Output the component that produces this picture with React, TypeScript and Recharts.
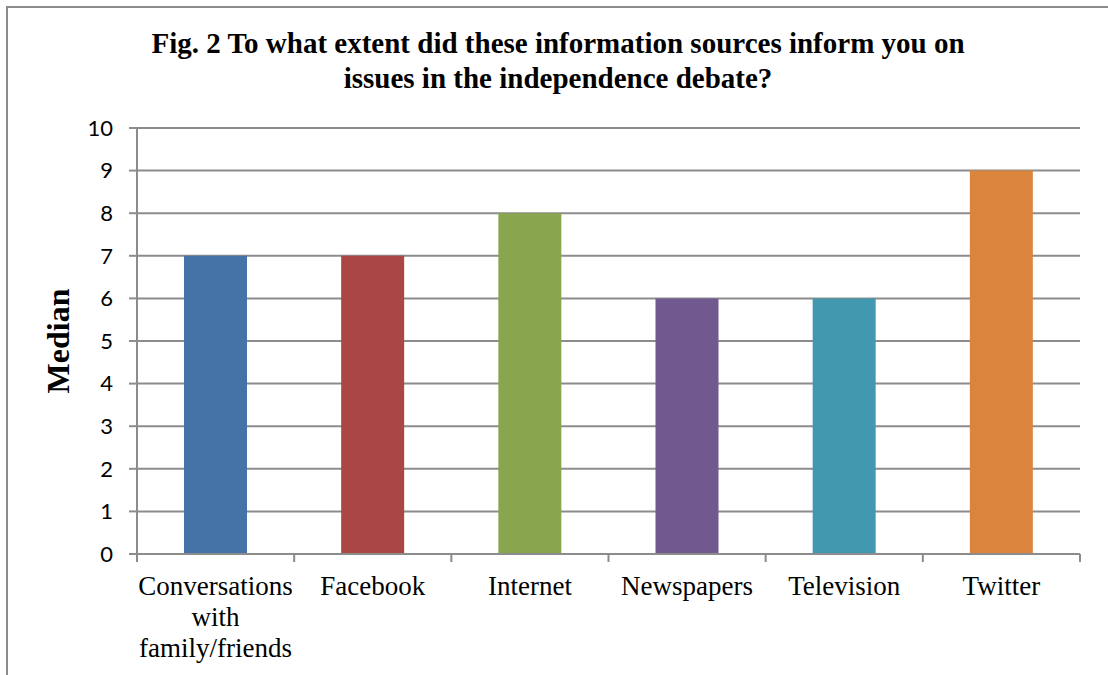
import { BarChart, Bar, XAxis, YAxis, CartesianGrid, Cell } from "recharts";

const sources = [
  "Conversations with family/friends",
  "Facebook",
  "Internet",
  "Newspapers",
  "Television",
  "Twitter",
];
const medians = [7, 7, 8, 6, 6, 9];
const colors = ["#4572A7", "#AA4643", "#89A54E", "#71588F", "#4198AF", "#DB843D"];
const yTicks = [0, 1, 2, 3, 4, 5, 6, 7, 8, 9, 10];

const W = 1108;
const H = 675;
const LEFT = 137;
const RIGHT = 28;
const BAND = (W - LEFT - RIGHT) / sources.length;
const grey = "#8c8c8c";

// wrap long category names the way the original does
function wrap(label: string): string[] {
  if (label.startsWith("Conversations")) return ["Conversations", "with", "family/friends"];
  return [label];
}

function CategoryTick(props: any) {
  const { x, y, payload, index } = props;
  const lines = wrap(payload.value);
  const left = x - BAND / 2;
  return (
    <g>
      <line x1={left} y1={y - 8} x2={left} y2={y} stroke={grey} strokeWidth={2} />
      {index === sources.length - 1 && (
        <line x1={left + BAND} y1={y - 8} x2={left + BAND} y2={y} stroke={grey} strokeWidth={2} />
      )}
      <text
        x={x}
        y={y + 33}
        textAnchor="middle"
        fontFamily="'Liberation Serif', 'Times New Roman', serif"
        fontSize={27}
        fill="#000"
      >
        {lines.map((l, i) => (
          <tspan key={i} x={x} dy={i === 0 ? 0 : 31}>
            {l}
          </tspan>
        ))}
      </text>
    </g>
  );
}

export default function App() {
  const data = sources.map((s, i) => ({ source: s, median: medians[i] }));

  return (
    <div style={{ position: "absolute", left: 0, top: 0, width: W, height: H, overflow: "hidden", background: "#fff" }}>
      <div
        style={{
          position: "absolute",
          left: 6,
          top: 6,
          width: 1300,
          height: 900,
          border: `2px solid ${grey}`,
        }}
      />
      <div
        style={{
          position: "absolute",
          left: 0,
          top: 26,
          width: 1116,
          textAlign: "center",
          fontFamily: "'Liberation Serif', 'Times New Roman', serif",
          fontWeight: "bold",
          fontSize: 29,
          lineHeight: "35px",
          color: "#000",
        }}
      >
        Fig. 2 To what extent did these information sources inform you on
        <br />
        issues in the independence debate?
      </div>
      <div style={{ position: "absolute", left: 0, top: 0 }}>
        <BarChart
          width={W}
          height={H}
          data={data}
          margin={{ top: 128, right: RIGHT, bottom: 0, left: 0 }}
          barSize={63}
        >
          <CartesianGrid vertical={false} stroke={grey} strokeWidth={2} />
          <XAxis
            dataKey="source"
            interval={0}
            tickLine={false}
            axisLine={{ stroke: grey, strokeWidth: 2 }}
            tick={<CategoryTick />}
            height={121}
          />
          <YAxis
            width={LEFT}
            domain={[0, 10]}
            ticks={yTicks}
            interval={0}
            axisLine={{ stroke: grey, strokeWidth: 2 }}
            tickLine={{ stroke: grey, strokeWidth: 2 }}
            tickSize={8}
            tickMargin={16}
            tick={{ fill: "#000", fontSize: 22, fontFamily: "Lato, 'Liberation Sans', sans-serif" }}
            label={{
              value: "Median",
              angle: -90,
              position: "insideLeft",
              offset: 58,
              style: {
                textAnchor: "middle",
                fontFamily: "'Liberation Serif', 'Times New Roman', serif",
                fontWeight: "bold",
                fontSize: 32,
                fill: "#000",
              },
            }}
          />
          <Bar dataKey="median" isAnimationActive={false}>
            {data.map((_, i) => (
              <Cell key={i} fill={colors[i]} />
            ))}
          </Bar>
        </BarChart>
      </div>
    </div>
  );
}
